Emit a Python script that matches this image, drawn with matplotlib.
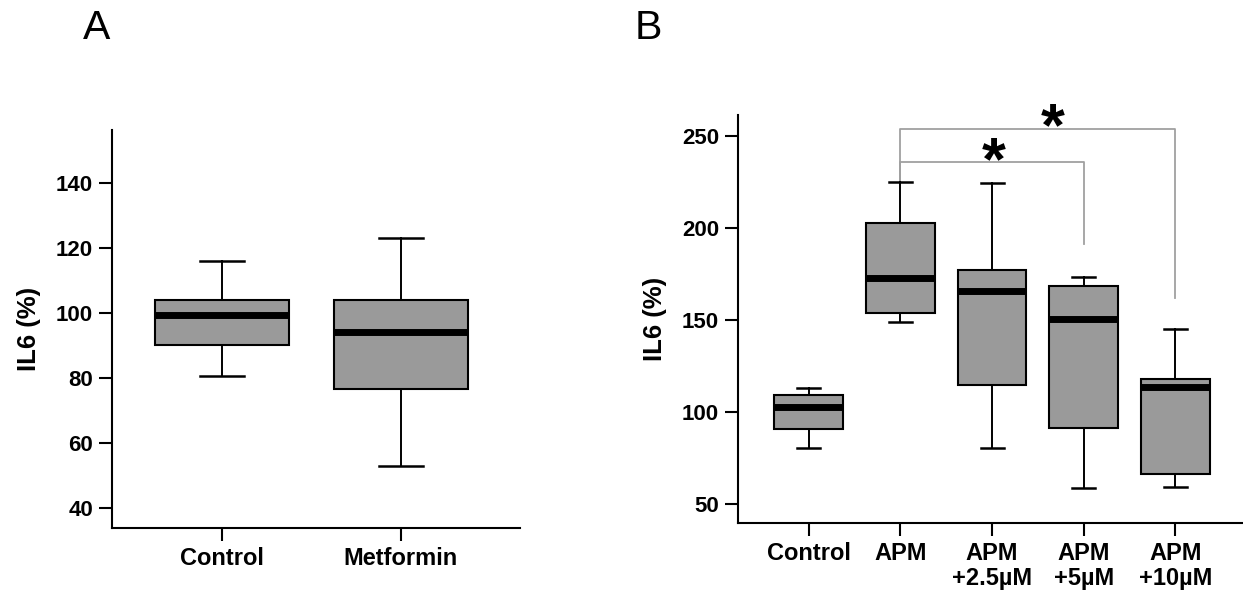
import matplotlib
matplotlib.use("Agg")
import matplotlib.pyplot as plt

plt.rcParams["font.family"] = ["Liberation Sans", "DejaVu Sans"]

# Panel A: IL6 (%) box summaries
a_labels = ["Control", "Metformin"]
a_whislo = [80.5, 53]
a_q1 = [90, 76.5]
a_med = [99.5, 94]
a_q3 = [104, 104]
a_whishi = [116, 123]
a_ticks = [40, 60, 80, 100, 120, 140]

# Panel B
b_labels = ["Control", "APM", "APM\n+2.5µM", "APM\n+5µM", "APM\n+10µM"]
b_whislo = [80.4, 148.7, 80.6, 58.7, 59.1]
b_q1 = [90.6, 153.6, 114.7, 91.1, 66.3]
b_med = [102.9, 172.6, 165.8, 150.5, 113.4]
b_q3 = [109.2, 202.9, 177.2, 168.5, 117.8]
b_whishi = [112.9, 225.2, 224.3, 173.2, 144.9]
b_ticks = [50, 100, 150, 200, 250]

# significance brackets: from group, to group, bar height, right leg end
br_from = [2, 2]
br_to = [4, 5]
br_height = [236.1, 254.0]
br_leg = [191.1, 161.8]
star_x = [3.02, 3.665]
star_y = [226.3, 245.0]
bracket_start = 225.2

BOX_FC = "#9a9a9a"
BRACKET_C = "#a0a0a0"
TICK_FS = 16
XLAB_FS = 17


def stats(labels, lo, q1, med, q3, hi):
    return [dict(label=l, whislo=a, q1=b, med=c, q3=d, whishi=e)
            for l, a, b, c, d, e in zip(labels, lo, q1, med, q3, hi)]


def draw(ax, st, ticks, ylim, xlim):
    ax.bxp(st, showfliers=False, widths=0.75, capwidths=0.25, patch_artist=True,
           boxprops=dict(facecolor=BOX_FC, edgecolor="black", linewidth=1.5),
           medianprops=dict(color="black", linewidth=5, solid_capstyle="butt"),
           whiskerprops=dict(color="black", linewidth=1.4),
           capprops=dict(color="black", linewidth=1.8))
    ax.set_ylim(*ylim)
    ax.set_xlim(*xlim)
    ax.set_yticks(ticks)
    for s in ["top", "right"]:
        ax.spines[s].set_visible(False)
    for s in ["left", "bottom"]:
        ax.spines[s].set_linewidth(1.5)
    ax.tick_params(length=9.5, width=1.5, pad=4)
    ax.tick_params(axis="y", labelsize=TICK_FS)
    ax.tick_params(axis="x", labelsize=XLAB_FS)
    for t in ax.get_xticklabels() + ax.get_yticklabels():
        t.set_fontweight("bold")
    ax.set_ylabel("IL6 (%)", fontsize=18.5, fontweight="bold", labelpad=11)


fig = plt.figure(figsize=(12.43, 5.97), dpi=100)

ax1 = fig.add_axes([0.0901, 0.1156, 0.3282, 0.6667])
draw(ax1, stats(a_labels, a_whislo, a_q1, a_med, a_q3, a_whishi),
     a_ticks, (33.8, 156.3), (0.385, 2.665))

ax2 = fig.add_axes([0.5937, 0.1240, 0.4063, 0.6834])
draw(ax2, stats(b_labels, b_whislo, b_q1, b_med, b_q3, b_whishi),
     b_ticks, (39.7, 261.4), (0.229, 5.737))
for t in ax2.get_xticklabels():
    t.set_linespacing(1.1)

for g0, g1, h, leg, sx, sy in zip(br_from, br_to, br_height, br_leg, star_x, star_y):
    ax2.plot([g0, g0, g1, g1], [bracket_start, h, h, leg], color=BRACKET_C,
             linewidth=1.3, zorder=1)
    ax2.text(sx, sy, "*", fontsize=44, fontweight="bold",
             ha="center", va="baseline")

fig.text(0.0668, 1 - 39 / 597, "A", fontsize=29.5, ha="left", va="baseline")
fig.text(0.5109, 1 - 39 / 597, "B", fontsize=29.5, ha="left", va="baseline")

fig.savefig("out.png", dpi=100)
